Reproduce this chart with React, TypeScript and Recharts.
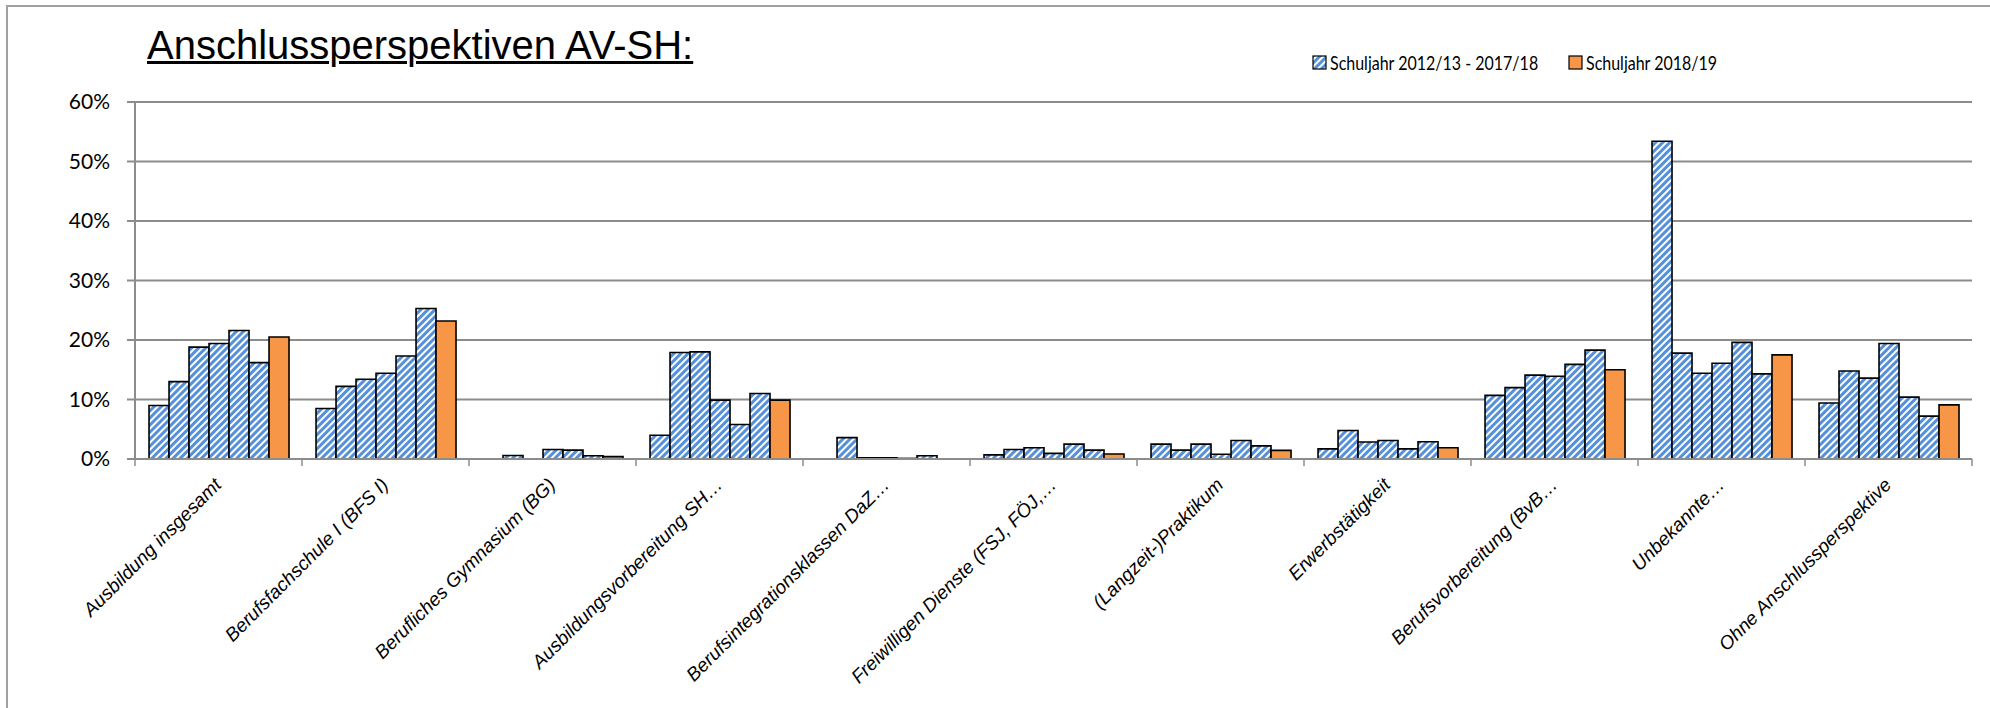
import React from 'react';
import { BarChart, Bar, XAxis, YAxis, CartesianGrid, Legend } from 'recharts';

// Anschlussperspektiven AV-SH, Anteile in %
const categories = [
  'Ausbildung insgesamt',
  'Berufsfachschule I (BFS I)',
  'Berufliches Gymnasium (BG)',
  'Ausbildungsvorbereitung SH…',
  'Berufsintegrationsklassen DaZ…',
  'Freiwilligen Dienste (FSJ, FÖJ,…',
  '(Langzeit-)Praktikum',
  'Erwerbstätigkeit',
  'Berufsvorbereitung (BvB…',
  'Unbekannte…',
  'Ohne Anschlussperspektive',
];

const sj1213 = [9.0, 8.5, 0, 4.0, 0, 0.7, 2.5, 1.7, 10.7, 53.4, 9.4];
const sj1314 = [13.0, 12.2, 0.6, 17.9, 3.6, 1.6, 1.5, 4.8, 12.0, 17.8, 14.8];
const sj1415 = [18.8, 13.4, 0, 18.0, 0.2, 1.9, 2.5, 2.85, 14.1, 14.4, 13.6];
const sj1516 = [19.4, 14.4, 1.6, 9.9, 0.2, 0.95, 0.8, 3.1, 13.9, 16.1, 19.4];
const sj1617 = [21.6, 17.3, 1.5, 5.8, 0.1, 2.5, 3.1, 1.7, 15.9, 19.6, 10.4];
const sj1718 = [16.2, 25.3, 0.55, 11.0, 0.55, 1.5, 2.2, 2.9, 18.3, 14.3, 7.2];
const sj1819 = [20.5, 23.2, 0.4, 9.9, 0, 0.85, 1.45, 1.9, 15.0, 17.5, 9.1];

const yTicks = [0, 10, 20, 30, 40, 50, 60];

const oldYears = [
  { key: 'sj1213', values: sj1213 },
  { key: 'sj1314', values: sj1314 },
  { key: 'sj1415', values: sj1415 },
  { key: 'sj1516', values: sj1516 },
  { key: 'sj1617', values: sj1617 },
  { key: 'sj1718', values: sj1718 },
];

const data = categories.map((name, i) => {
  const row: Record<string, any> = { name, sj1819: sj1819[i] };
  oldYears.forEach((s) => (row[s.key] = s.values[i]));
  return row;
});

const W = 1990;
const H = 708;
const MARGIN = { top: 102, right: 18, bottom: 0, left: 0 };
const Y_AXIS_W = 135;
const BAND = (W - MARGIN.right - Y_AXIS_W) / categories.length;

const GRAY = '#8c8c8c';
const ORANGE = '#f79646';
const HATCH = 'url(#hatchBlue)';

const CategoryTick = (props: any) => {
  const { x, y, payload, index } = props;
  const half = BAND / 2;
  return (
    <g>
      <line x1={x - half} y1={y} x2={x - half} y2={y + 7} stroke={GRAY} strokeWidth={1.5} />
      {index === categories.length - 1 && (
        <line x1={x + half} y1={y} x2={x + half} y2={y + 7} stroke={GRAY} strokeWidth={1.5} />
      )}
      <text
        transform={`translate(${x + 4},${y + 27}) rotate(-45)`}
        textAnchor="end"
        fontFamily="'Liberation Sans', Arial, sans-serif"
        fontStyle="italic"
        fontSize={19}
        fill="#000"
      >
        {payload.value}
      </text>
    </g>
  );
};

// legend items sit at fixed offsets inside the legend wrapper
const legendOffsets = [0, 256];

const LegendBox = (props: any) => {
  const items = (props.payload || []).filter((p: any) => p.type !== 'none');
  return (
    <div style={{ position: 'relative', width: 470, height: 26, fontFamily: 'Lato, sans-serif', fontSize: 20, color: '#000' }}>
      {items.map((p: any, i: number) => (
        <div key={i} style={{ position: 'absolute', left: legendOffsets[i], top: 0, display: 'flex', alignItems: 'center', height: 26 }}>
          <svg width={15} height={15} style={{ marginRight: 3 }}>
            <rect x={1} y={1} width={13} height={13} fill={p.color} stroke="#000" strokeWidth={1.2} />
          </svg>
          <span style={{ display: 'inline-block', transform: 'scaleX(0.8)', transformOrigin: 'left center', whiteSpace: 'nowrap' }}>
            {p.value}
          </span>
        </div>
      ))}
    </div>
  );
};

export default function App() {
  return (
    <div style={{ position: 'absolute', left: 0, top: 0, width: W, height: H, background: '#fff' }}>
      <svg width={0} height={0} style={{ position: 'absolute' }}>
        <defs>
          <pattern id="hatchBlue" patternUnits="userSpaceOnUse" width={5} height={5} patternTransform="rotate(45)">
            <rect x={0} y={0} width={5} height={5} fill="#ffffff" />
            <rect x={0} y={0} width={3} height={5} fill="#5590da" />
          </pattern>
        </defs>
      </svg>
      <div
        style={{
          position: 'absolute',
          left: 6,
          top: 5,
          width: W - 6,
          height: H - 5,
          borderTop: '2px solid #a0a0a0',
          borderLeft: '2px solid #a0a0a0',
          boxSizing: 'border-box',
        }}
      />
      <div
        style={{
          position: 'absolute',
          left: 147,
          top: 22,
          fontFamily: "'Liberation Sans', Arial, sans-serif",
          fontSize: 40,
          textDecoration: 'underline',
          textDecorationThickness: 3,
          color: '#000',
          lineHeight: 1.15,
        }}
      >
        Anschlussperspektiven AV-SH:
      </div>
      <BarChart
        width={W}
        height={H}
        data={data}
        margin={MARGIN}
        barGap={0}
        barCategoryGap="8.4%"
        style={{ position: 'absolute', left: 0, top: 0 }}
      >
        <CartesianGrid vertical={false} stroke={GRAY} strokeWidth={2} />
        <XAxis
          dataKey="name"
          interval={0}
          height={H - MARGIN.top - 357}
          axisLine={{ stroke: GRAY, strokeWidth: 2 }}
          tickLine={false}
          tickSize={0}
          tickMargin={0}
          tick={<CategoryTick />}
        />
        <YAxis
          width={Y_AXIS_W}
          domain={[0, 60]}
          ticks={yTicks}
          tickFormatter={(v: number) => `${v}%`}
          axisLine={{ stroke: GRAY, strokeWidth: 2 }}
          tickLine={{ stroke: GRAY, strokeWidth: 2 }}
          tickSize={8}
          tickMargin={17}
          tick={{ fill: '#000', fontFamily: 'Lato, sans-serif', fontSize: 21 }}
        />
        <Legend
          layout="horizontal"
          verticalAlign="middle"
          align="center"
          wrapperStyle={{ top: 49, left: 1312, width: 'auto' }}
          content={<LegendBox />}
        />
        {oldYears.map((s, i) => (
          <Bar
            key={s.key}
            dataKey={s.key}
            name={i === 0 ? 'Schuljahr 2012/13 - 2017/18' : s.key}
            legendType={i === 0 ? 'square' : 'none'}
            fill={HATCH}
            stroke="#000"
            strokeWidth={1.6}
            isAnimationActive={false}
          />
        ))}
        <Bar
          dataKey="sj1819"
          name="Schuljahr 2018/19"
          legendType="square"
          fill={ORANGE}
          stroke="#000"
          strokeWidth={1.6}
          isAnimationActive={false}
        />
      </BarChart>
    </div>
  );
}
